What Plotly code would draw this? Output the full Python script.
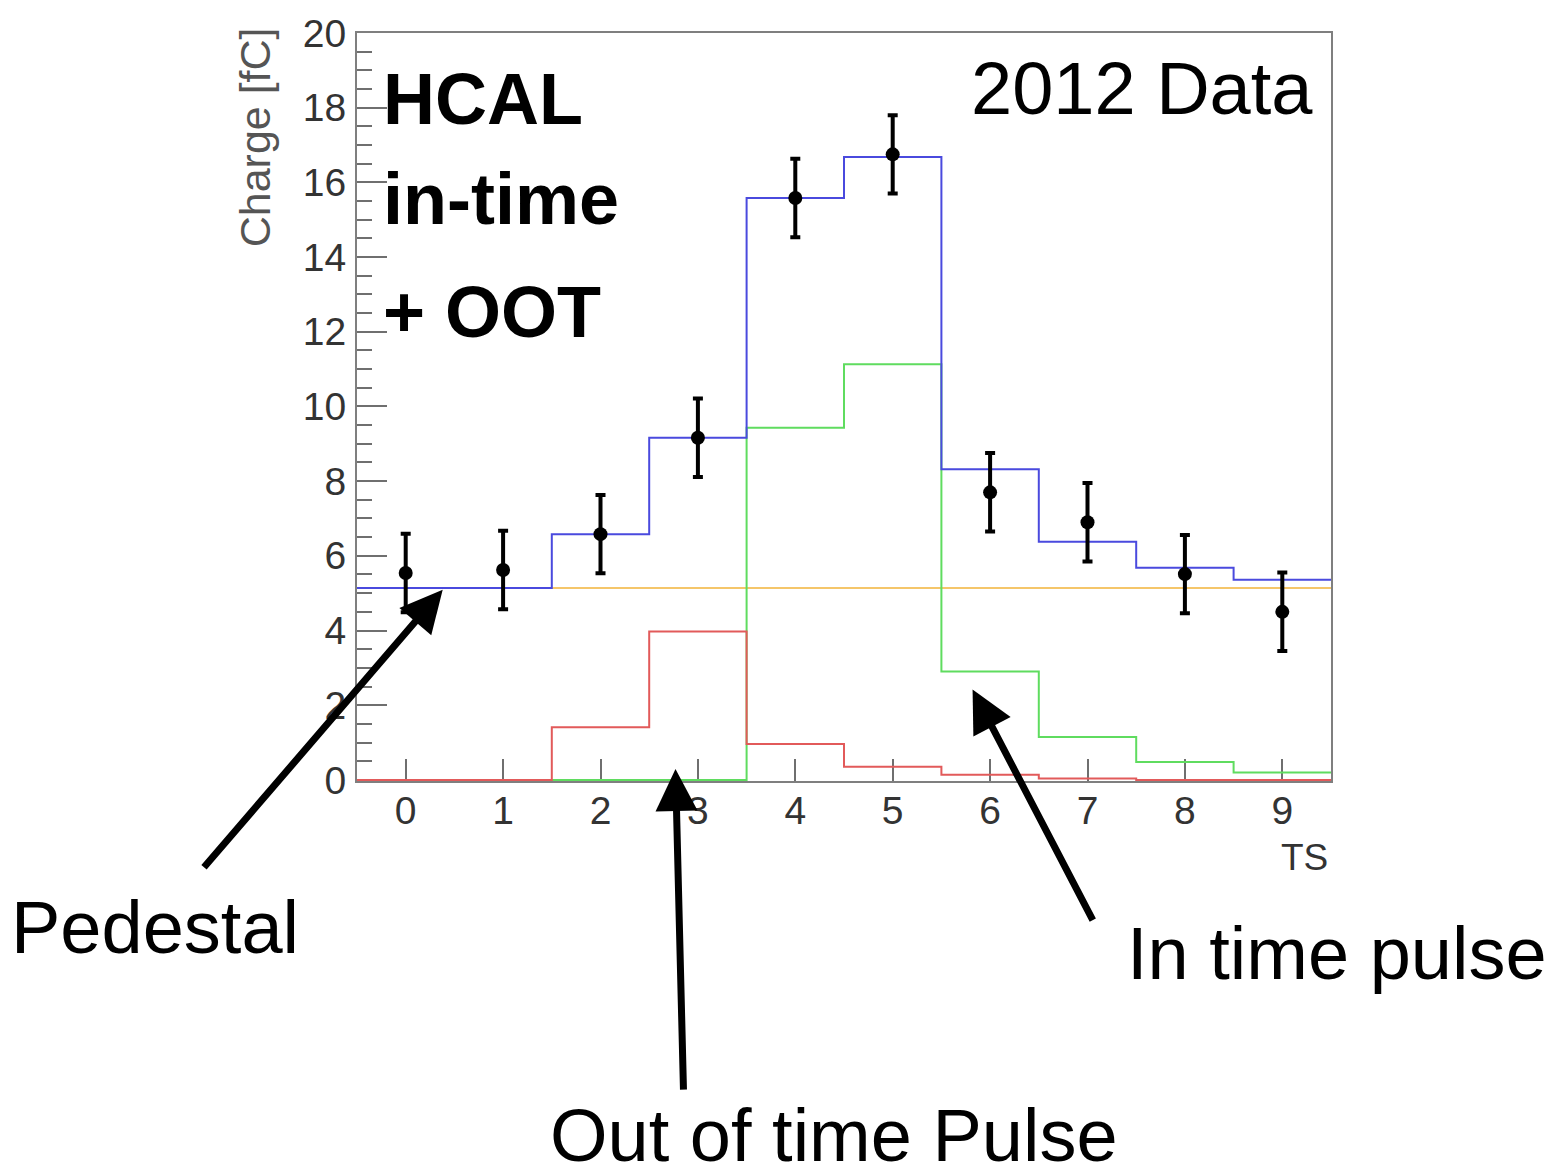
import plotly.graph_objects as go

# ---- data ----
ts = [0, 1, 2, 3, 4, 5, 6, 7, 8, 9]
total_fit = [5.14, 5.14, 6.58, 9.16, 15.58, 16.68, 8.32, 6.38, 5.68, 5.36]
pedestal = [5.14] * 10
in_time = [0, 0, 0, 0, 9.43, 11.13, 2.90, 1.15, 0.48, 0.20]
out_of_time = [0, 0, 1.41, 3.97, 0.96, 0.35, 0.14, 0.04, 0, 0]
data_vals = [5.54, 5.62, 6.58, 9.16, 15.58, 16.75, 7.70, 6.90, 5.51, 4.50]
data_err = [1.05] * 10
y_ticks = list(range(0, 21, 2))

FONT = "Liberation Sans, Arial, sans-serif"


def steps(vals):
    edges = [t - 0.5 for t in ts] + [ts[-1] + 0.5]
    return edges, list(vals) + [vals[-1]]


fig = go.Figure()

for vals, color in [(pedestal, "#f5c66a"), (in_time, "#5fdc5f"),
                    (out_of_time, "#e25a5a"), (total_fit, "#4a4ade")]:
    xs, ys = steps(vals)
    fig.add_trace(go.Scatter(x=xs, y=ys, mode="lines", line_shape="hv",
                             line=dict(color=color, width=2),
                             showlegend=False, hoverinfo="skip"))

fig.add_trace(go.Scatter(
    x=ts, y=data_vals, mode="markers",
    marker=dict(color="black", size=14),
    error_y=dict(type="data", array=data_err, color="black", thickness=4, width=5),
    showlegend=False))

W, H = 1562, 1175
L, R, T, B = 357, 1331, 28, 781

fig.update_layout(
    width=W, height=H,
    margin=dict(l=L, r=W - R, t=T, b=H - B),
    paper_bgcolor="white", plot_bgcolor="white",
    font=dict(family=FONT, color="#333333"),
    xaxis=dict(range=[-0.5, 9.5], tickvals=ts, ticks="inside", ticklen=22,
               tickwidth=2, tickcolor="#6f6f6f", showline=True, linecolor="#7f7f7f",
               linewidth=2, mirror=True, showgrid=False, zeroline=False,
               tickfont=dict(size=39, color="#333333", family=FONT),
               layer="below traces", ticklabelstandoff=-6),
    yaxis=dict(range=[-0.03, 20], tickvals=y_ticks, ticks="inside", ticklen=30,
               tickwidth=2, tickcolor="#6f6f6f", showline=True, linecolor="#7f7f7f",
               linewidth=2, mirror=True, showgrid=False, zeroline=False,
               minor=dict(ticks="inside", ticklen=15, dtick=0.5, tickwidth=2,
                          tickcolor="#6f6f6f", showgrid=False),
               tickfont=dict(size=39, color="#333333", family=FONT),
               layer="below traces", ticklabelstandoff=1),
)


def px(xp):
    return (xp - L) / (R - L)


def py(yp):
    return (B - yp) / (B - T)


ann = []
# axis titles
ann.append(dict(text="Charge [fC]", xref="paper", yref="paper", x=px(255), y=py(133),
                textangle=-90, showarrow=False, font=dict(size=43, color="#555555", family=FONT),
                xanchor="center", yanchor="middle"))
ann.append(dict(text="TS", xref="paper", yref="paper", x=px(1330), y=py(858),
                showarrow=False, font=dict(size=37, color="#333333", family=FONT),
                xanchor="right", yanchor="middle"))
# in-plot labels
for txt, yc in [("HCAL", 94), ("in-time", 195), ("+ OOT", 309)]:
    ann.append(dict(text="<b>%s</b>" % txt, xref="paper", yref="paper", x=px(381), y=py(yc),
                    showarrow=False, font=dict(size=72, color="black", family=FONT),
                    xanchor="left", yanchor="middle"))
ann.append(dict(text="2012 Data", xref="paper", yref="paper", x=px(1142), y=py(84),
                showarrow=False, font=dict(size=74, color="black", family=FONT),
                xanchor="center", yanchor="middle"))
# outside labels
for txt, xc, yc in [("Pedestal", 155, 928), ("In time pulse", 1337, 955),
                    ("Out of time Pulse", 834, 1138)]:
    ann.append(dict(text=txt, xref="paper", yref="paper", x=px(xc), y=py(yc),
                    showarrow=False, font=dict(size=74, color="black", family=FONT),
                    xanchor="center", yanchor="middle"))
# arrows (head in data coords, tail offset in pixels)
for hx, hy, axo, ayo in [(0.38, 5.09, -240, 279), (2.77, 0.29, 8, 322), (5.82, 2.42, 121, 232)]:
    ann.append(dict(text="", x=hx, y=hy, xref="x", yref="y", ax=axo, ay=ayo,
                    showarrow=True, arrowhead=2, arrowsize=1.2, arrowwidth=7,
                    arrowcolor="black", standoff=0, startstandoff=0))

fig.update_layout(annotations=ann)
fig.write_html("out.html")
